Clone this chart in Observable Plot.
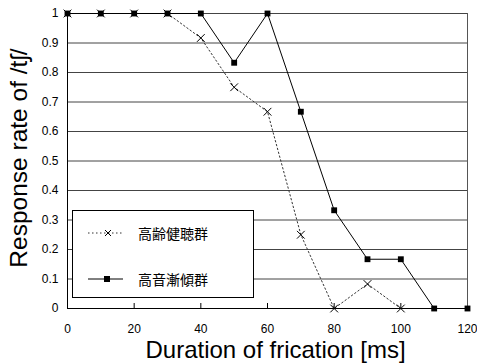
<!DOCTYPE html>
<html>
<head>
<meta charset="utf-8">
<script src="https://cdn.jsdelivr.net/npm/d3@7"></script>
<script src="https://cdn.jsdelivr.net/npm/@observablehq/plot@0.6"></script>
<style>
  body { margin: 0; background: #fff; }
  #wrap { position: relative; width: 477px; height: 363px; font-family: "Noto Sans CJK JP", sans-serif; }
  #legend { position: absolute; left: 72px; top: 210px; width: 182px; height: 88px; box-sizing: border-box;
            border: 1px solid #000; background: #fff; }
  .row { position: absolute; left: 0; height: 20px; display: flex; align-items: center; }
  .row span { position: absolute; left: 65px; font-size: 14px; white-space: nowrap; line-height: 20px; }
</style>
</head>
<body>
<div id="wrap"></div>
<script>
const durations = [0, 10, 20, 30, 40, 50, 60, 70, 80, 90, 100, 110, 120];
const seriesNames = ["高齢健聴群", "高音漸傾群"];
const elderlyNormal = [1, 1, 1, 1, 0.917, 0.75, 0.667, 0.25, 0, 0.083, 0];
const highToneLoss = [1, 1, 1, 1, 1, 0.833, 1, 0.667, 0.333, 0.167, 0.167, 0, 0];
const xTicks = [0, 20, 40, 60, 80, 100, 120];
const yTicks = [0, 0.1, 0.2, 0.3, 0.4, 0.5, 0.6, 0.7, 0.8, 0.9, 1];
const xLabel = "Duration of frication [ms]";
const yLabel = "Response rate of /tʃ/";

const s1 = elderlyNormal.map((v, i) => ({x: durations[i], y: v}));
const s2 = highToneLoss.map((v, i) => ({x: durations[i], y: v}));

const latin = "'Liberation Sans', Arial, sans-serif";

const chart = Plot.plot({
  width: 477, height: 363,
  marginLeft: 67, marginRight: 10, marginTop: 13, marginBottom: 55,
  style: {fontFamily: latin, background: "#fff"},
  x: {domain: [0, 120]},
  y: {domain: [0, 1]},
  marks: [
    Plot.gridY(yTicks, {stroke: "#444", strokeOpacity: 1}),
    Plot.ruleX([120], {stroke: "#555"}),
    Plot.axisY(yTicks, {tickSize: 0, tickPadding: 9, fontSize: 12, label: null,
      tickFormat: d => (d === 0 || d === 1) ? String(d) : d.toFixed(1)}),
    Plot.axisX(xTicks, {tickSize: 0, tickPadding: 16, fontSize: 12, label: null}),
    Plot.tickX(xTicks.slice(1, -1), {x: d => d, insetTop: 290, stroke: "#000"}),
    Plot.ruleY([0], {stroke: "#000"}),
    Plot.ruleX([0], {stroke: "#000"}),
    Plot.line(s1, {x: "x", y: "y", stroke: "#333", strokeWidth: 1, strokeDasharray: "1.5,2.5"}),
    Plot.dot(s1, {x: "x", y: "y", symbol: "times", r: 3.6, stroke: "#000", strokeWidth: 1}),
    Plot.line(s2, {x: "x", y: "y", stroke: "#000", strokeWidth: 1}),
    Plot.dot(s2, {x: "x", y: "y", symbol: "square", r: 3.3, fill: "#000", stroke: null}),
    Plot.text([xLabel], {frameAnchor: "bottom", lineAnchor: "middle", dy: 42, dx: 8, fontSize: 24, fill: "#000"}),
    Plot.text([yLabel], {frameAnchor: "left", textAnchor: "middle", lineAnchor: "middle", rotate: -90, dx: -48, dy: -3, fontSize: 24.5, fill: "#000"})
  ]
});
const wrap = document.getElementById("wrap");
wrap.appendChild(chart);

const legend = document.createElement("div");
legend.id = "legend";
const rows = [
  {name: seriesNames[0], top: 12, svg: '<svg width="50" height="20"><line x1="15" y1="10" x2="51" y2="10" stroke="#333" stroke-dasharray="1.5,2.5"/><path d="M32,7L38,13M38,7L32,13" stroke="#000"/></svg>'},
  {name: seriesNames[1], top: 58, svg: '<svg width="50" height="20"><line x1="15" y1="10" x2="51" y2="10" stroke="#000"/><rect x="31" y="7" width="6" height="6" fill="#000"/></svg>'}
];
for (const r of rows) {
  const d = document.createElement("div");
  d.className = "row";
  d.style.top = r.top + "px";
  d.innerHTML = r.svg + `<span>${r.name}</span>`;
  legend.appendChild(d);
}
wrap.appendChild(legend);
</script>
</body>
</html>
